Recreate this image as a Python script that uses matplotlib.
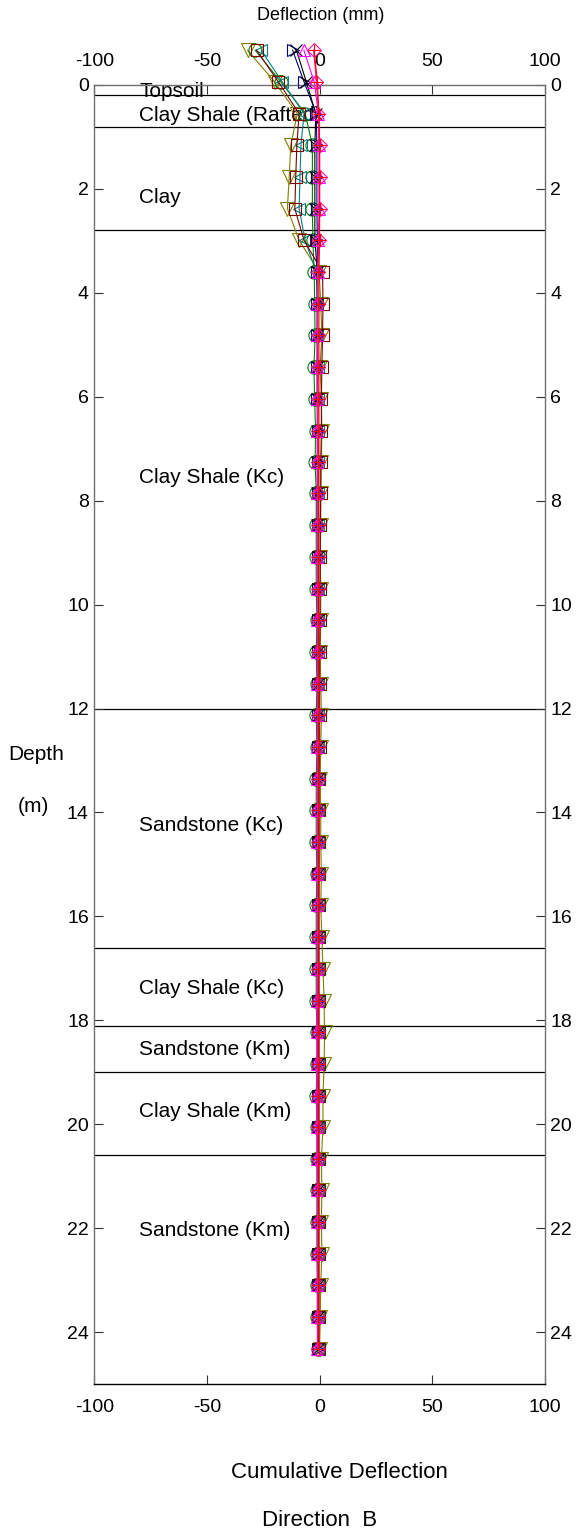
import matplotlib
matplotlib.use("Agg")
import matplotlib.pyplot as plt

plt.rcParams['font.family'] = ['Liberation Sans', 'DejaVu Sans']
plt.rcParams['axes.unicode_minus'] = False

# reading depths (m), one every 0.61 m (2 ft)
depth = [-0.67, -0.06, 0.55, 1.16, 1.77, 2.38, 2.99, 3.60, 4.21, 4.82,
         5.43, 6.04, 6.65, 7.26, 7.86, 8.47, 9.08, 9.69, 10.30, 10.91,
         11.52, 12.13, 12.74, 13.35, 13.96, 14.57, 15.18, 15.79, 16.40, 17.01,
         17.62, 18.23, 18.84, 19.45, 20.06, 20.67, 21.27, 21.88, 22.49, 23.10,
         23.71, 24.32]

# cumulative deflection (mm) for each survey
defl_olive = [-32.0, -20.0, -9.9, -12.8, -13.5, -14.3, -9.1, -0.2, 0.5, 1.0,
              0.2, 0.8, 1.0, 0.8, 0.5, 0.5, 0.3, 0.5, 0.5, 0.3,
              0.5, 0.8, 0.5, 0.3, 0.5, 0.5, 0.8, 0.5, 1.0, 1.5,
              2.0, 2.2, 2.0, 1.5, 1.5, 0.8, 1.0, 0.8, 1.0, 0.5,
              0.3, 0.0]
defl_green = [-28.6, -17.2, -6.4, -3.2, -3.2, -3.2, -3.0, -2.4, -2.2, -2.0,
              -2.5, -2.2, -1.8, -2.0, -1.5, -1.5, -1.5, -1.5, -1.2, -1.5,
              -1.2, -1.5, -1.2, -1.5, -1.5, -1.5, -1.2, -1.5, -1.5, -1.5,
              -1.5, -1.2, -1.2, -1.5, -1.2, -1.2, -1.2, -1.2, -1.2, -1.0,
              -1.0, -0.8]
defl_maroon = [-28.0, -18.3, -9.1, -10.1, -10.6, -11.0, -6.9, 1.3, 1.5, 1.3,
               1.0, 0.8, 0.8, 0.5, 0.5, 0.3, 0.3, 0.2, 0.2, 0.0,
               0.0, 0.0, 0.0, -0.2, -0.2, -0.2, -0.2, -0.3, -0.3, -0.3,
               -0.3, -0.3, -0.3, -0.3, -0.3, -0.3, -0.3, -0.3, -0.3, -0.3,
               -0.3, -0.3]
defl_teal = [-26.0, -16.6, -6.9, -8.3, -8.7, -9.1, -6.4, -1.5, -1.0, -1.0,
             -0.8, -0.8, -0.8, -0.5, -0.5, -0.5, -0.5, -0.5, -0.5, -0.5,
             -0.5, -0.5, -0.5, -0.5, -0.5, -0.5, -0.5, -0.5, -0.5, -0.5,
             -0.5, -0.5, -0.5, -0.5, -0.5, -0.5, -0.5, -0.5, -0.5, -0.5,
             -0.5, -0.5]
defl_navy = [-12.0, -6.9, -1.5, -1.2, -1.2, -1.2, -1.0, -1.0, -1.0, -1.0,
             -1.0, -1.0, -0.8, -0.8, -0.8, -0.8, -0.8, -0.8, -0.8, -0.8,
             -0.8, -0.8, -0.8, -0.8, -0.8, -0.8, -0.8, -0.8, -0.8, -0.8,
             -0.8, -0.8, -0.8, -0.8, -0.8, -0.8, -0.8, -0.8, -0.8, -0.8,
             -0.8, -0.8]
defl_black = [-10.3, -5.9, -1.7, -2.1, -2.1, -2.1, -2.1, -1.0, -1.0, -1.0,
              -1.0, -1.0, -1.0, -1.0, -1.0, -1.0, -0.8, -0.8, -0.8, -0.8,
              -0.8, -0.8, -0.8, -0.8, -0.8, -0.8, -0.8, -0.8, -0.8, -0.8,
              -0.8, -0.8, -0.8, -0.8, -0.8, -0.8, -0.8, -0.8, -0.8, -0.8,
              -0.8, -0.8]
defl_magenta = [-7.0, -2.4, -0.5, -0.3, -0.3, -0.3, -0.5, -0.8, -1.0, -1.0,
                -1.2, -1.0, -1.0, -1.0, -1.0, -1.0, -1.0, -1.0, -1.0, -1.0,
                -1.0, -1.0, -1.0, -1.0, -1.0, -1.0, -1.0, -1.0, -1.0, -1.0,
                -1.2, -1.2, -1.2, -1.2, -1.2, -1.2, -1.0, -1.0, -1.0, -1.0,
                -1.0, -1.0]
defl_pink = [-2.7, -1.4, -0.5, 0.0, 0.0, 0.0, -0.3, -0.8, -0.8, -0.8,
             -0.8, -0.8, -0.8, -0.8, -0.8, -0.8, -0.8, -0.8, -0.8, -0.8,
             -0.8, -0.8, -0.8, -0.8, -0.8, -0.8, -0.8, -0.8, -0.8, -0.8,
             -0.8, -0.8, -0.8, -0.8, -0.8, -0.8, -0.8, -0.8, -0.8, -0.8,
             -0.8, -0.8]
defl_red = [-2.4, -1.0, -0.3, 0.0, 0.0, 0.0, 0.0, -0.3, -0.3, -0.3,
            -0.3, -0.3, -0.3, -0.3, -0.3, -0.3, -0.3, -0.3, -0.3, -0.3,
            -0.3, -0.3, -0.3, -0.3, -0.3, -0.3, -0.3, -0.3, -0.3, -0.3,
            -0.3, -0.3, -0.3, -0.3, -0.3, -0.3, -0.3, -0.3, -0.3, -0.3,
            -0.3, -0.3]

# soil / rock layers: boundary depths and label positions
layer_bottoms = [0.2, 0.8, 2.8, 12.0, 16.6, 18.1, 19.0, 20.6]
layer_names = ['Topsoil', 'Clay Shale (Rafted)', 'Clay', 'Clay Shale (Kc)',
               'Sandstone (Kc)', 'Clay Shale (Kc)', 'Sandstone (Km)',
               'Clay Shale (Km)', 'Sandstone (Km)']
label_depths = [0.12, 0.58, 2.16, 7.56, 14.26, 17.38, 18.57, 19.75, 22.04]

x_ticks = [-100, -50, 0, 50, 100]
y_ticks = [0, 2, 4, 6, 8, 10, 12, 14, 16, 18, 20, 22, 24]

series = [
    (defl_olive, '#808000', 'v', 10),
    (defl_green, '#008000', 'o', 9.5),
    (defl_teal, '#008080', '<', 9),
    (defl_maroon, '#800000', 's', 8),
    (defl_navy, '#000080', '>', 9),
    (defl_black, 'black', 'x', 8.5),
    (defl_magenta, '#FF00FF', '^', 8.5),
    (defl_pink, '#FF1493', 'D', 7),
    (defl_red, '#FF0000', '+', 8.5),
]

fig = plt.figure(figsize=(5.79, 15.37), dpi=100)
ax = fig.add_axes([0.163, 0.0995, 0.778, 0.8452])

for d in layer_bottoms:
    ax.axhline(d, color='black', lw=0.9, zorder=1)
for name, d in zip(layer_names, label_depths):
    ax.text(-80, d, name, fontsize=15, ha='left', va='center', zorder=2)

for vals, col, mk, ms in series:
    ax.plot(vals, depth, color=col, lw=0.8, marker=mk, ms=ms,
            mfc='none', mec=col, mew=0.8, clip_on=False, zorder=3)

ax.set_xlim(-100, 100)
ax.set_ylim(25, 0)
ax.set_xticks(x_ticks)
ax.set_yticks(y_ticks)
ax.tick_params(axis='both', direction='in', length=6.5, width=0.8,
               labelsize=14, color='#333333')
ax.tick_params(axis='x', top=True, labeltop=True, bottom=True, labelbottom=True)
ax.tick_params(axis='x', which='major', pad=11)
ax.tick_params(axis='y', left=True, right=True, labelleft=True, labelright=True,
               pad=4)
for s in ('left', 'right', 'top'):
    ax.spines[s].set_color('#707070')
ax.spines['bottom'].set_color('black')
for s in ax.spines.values():
    s.set_linewidth(1.0)

fig.text(321 / 579, 1 - 16 / 1537, 'Deflection (mm)', fontsize=13,
         ha='center', va='center')
fig.text(36 / 579, 1 - 755 / 1537, 'Depth', fontsize=15, ha='center', va='center')
fig.text(33 / 579, 1 - 807 / 1537, '(m)', fontsize=15, ha='center', va='center')
fig.text(339 / 579, 1 - 1473 / 1537, 'Cumulative Deflection', fontsize=16,
         ha='center', va='center')
fig.text(320 / 579, 1 - 1521 / 1537, 'Direction  B', fontsize=16,
         ha='center', va='center')

fig.savefig('out.png', dpi=100)
